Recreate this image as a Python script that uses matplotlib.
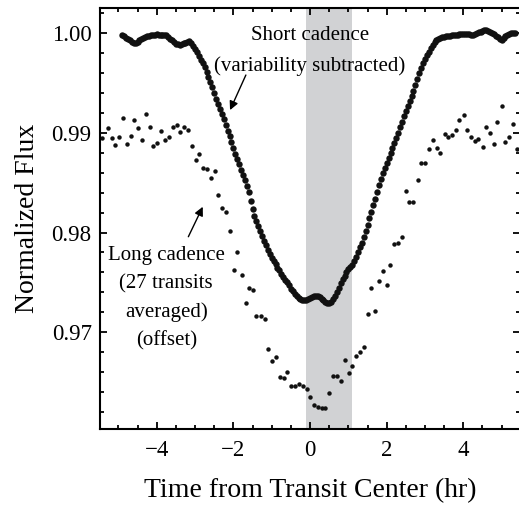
import numpy as np
import matplotlib
matplotlib.use("Agg")
import matplotlib.pyplot as plt
from matplotlib.ticker import MultipleLocator, FormatStrFormatter

plt.rcParams['font.family'] = ['Liberation Serif', 'DejaVu Serif']

# short cadence (variability subtracted), time in hr from transit center
sc_time = [
    -4.90, -4.85, -4.80, -4.75, -4.70, -4.65, -4.60, -4.55, -4.50, -4.45,
    -4.40, -4.35, -4.30, -4.25, -4.20, -4.15, -4.10, -4.05, -4.00, -3.95,
    -3.90, -3.85, -3.80, -3.75, -3.70, -3.65, -3.60, -3.55, -3.50, -3.45,
    -3.40, -3.35, -3.30, -3.25, -3.20, -3.15, -3.10, -3.05, -3.00, -2.95,
    -2.90, -2.85, -2.80, -2.75, -2.70, -2.65, -2.60, -2.55, -2.50, -2.45,
    -2.40, -2.35, -2.30, -2.25, -2.20, -2.15, -2.10, -2.05, -2.00, -1.95,
    -1.90, -1.85, -1.80, -1.75, -1.70, -1.65, -1.60, -1.55, -1.50, -1.45,
    -1.40, -1.35, -1.30, -1.25, -1.20, -1.15, -1.10, -1.05, -1.00, -0.95,
    -0.90, -0.85, -0.80, -0.75, -0.70, -0.65, -0.60, -0.55, -0.50, -0.45,
    -0.40, -0.35, -0.30, -0.25, -0.20, -0.15, -0.10, -0.05, 0.00, 0.05,
    0.10, 0.15, 0.20, 0.25, 0.30, 0.35, 0.40, 0.45, 0.50, 0.55,
    0.60, 0.65, 0.70, 0.75, 0.80, 0.85, 0.90, 0.95, 1.00, 1.05,
    1.10, 1.15, 1.20, 1.25, 1.30, 1.35, 1.40, 1.45, 1.50, 1.55,
    1.60, 1.65, 1.70, 1.75, 1.80, 1.85, 1.90, 1.95, 2.00, 2.05,
    2.10, 2.15, 2.20, 2.25, 2.30, 2.35, 2.40, 2.45, 2.50, 2.55,
    2.60, 2.65, 2.70, 2.75, 2.80, 2.85, 2.90, 2.95, 3.00, 3.05,
    3.10, 3.15, 3.20, 3.25, 3.30, 3.35, 3.40, 3.45, 3.50, 3.55,
    3.60, 3.65, 3.70, 3.75, 3.80, 3.85, 3.90, 3.95, 4.00, 4.05,
    4.10, 4.15, 4.20, 4.25, 4.30, 4.35, 4.40, 4.45, 4.50, 4.55,
    4.60, 4.65, 4.70, 4.75, 4.80, 4.85, 4.90, 4.95, 5.00, 5.05,
    5.10, 5.15, 5.20, 5.25, 5.30, 5.35]
sc_flux = [
    0.99988, 0.99973, 0.99958, 0.99948, 0.99933, 0.99918, 0.99908, 0.99903, 0.99918, 0.99933,
    0.99948, 0.99958, 0.99968, 0.99973, 0.99978, 0.99983, 0.99983, 0.99988, 0.99993, 0.99988,
    0.99983, 0.99983, 0.99983, 0.99983, 0.99968, 0.99948, 0.99933, 0.99913, 0.99898, 0.99893,
    0.99888, 0.99893, 0.99903, 0.99908, 0.99918, 0.99928, 0.99908, 0.99872, 0.99842, 0.99812,
    0.99772, 0.99732, 0.99702, 0.99662, 0.99611, 0.99561, 0.99511, 0.99461, 0.99401, 0.99340,
    0.99290, 0.99240, 0.99195, 0.99140, 0.99079, 0.99019, 0.98969, 0.98909, 0.98848, 0.98793,
    0.98738, 0.98688, 0.98633, 0.98577, 0.98527, 0.98467, 0.98407, 0.98316, 0.98236, 0.98166,
    0.98116, 0.98065, 0.98015, 0.97965, 0.97915, 0.97870, 0.97824, 0.97784, 0.97749, 0.97714,
    0.97684, 0.97649, 0.97619, 0.97588, 0.97558, 0.97523, 0.97503, 0.97473, 0.97438, 0.97408,
    0.97383, 0.97362, 0.97347, 0.97332, 0.97327, 0.97322, 0.97327, 0.97337, 0.97342, 0.97352,
    0.97362, 0.97367, 0.97362, 0.97352, 0.97337, 0.97322, 0.97307, 0.97297, 0.97292, 0.97307,
    0.97332, 0.97362, 0.97403, 0.97448, 0.97493, 0.97533, 0.97563, 0.97603, 0.97629, 0.97654,
    0.97679, 0.97714, 0.97759, 0.97804, 0.97854, 0.97900, 0.97955, 0.98015, 0.98080, 0.98146,
    0.98211, 0.98276, 0.98341, 0.98407, 0.98477, 0.98537, 0.98597, 0.98653, 0.98703, 0.98753,
    0.98803, 0.98853, 0.98904, 0.98954, 0.99004, 0.99059, 0.99109, 0.99170, 0.99220, 0.99270,
    0.99320, 0.99370, 0.99421, 0.99481, 0.99541, 0.99601, 0.99652, 0.99707, 0.99747, 0.99782,
    0.99817, 0.99852, 0.99888, 0.99913, 0.99933, 0.99948, 0.99958, 0.99963, 0.99968, 0.99973,
    0.99978, 0.99978, 0.99983, 0.99983, 0.99988, 0.99988, 0.99993, 0.99993, 0.99998, 0.99998,
    0.99998, 0.99993, 0.99988, 0.99988, 0.99998, 1.00008, 1.00018, 1.00018, 1.00023, 1.00033,
    1.00038, 1.00028, 1.00018, 1.00008, 0.99993, 0.99978, 0.99963, 0.99948, 0.99933, 0.99953,
    0.99978, 0.99988, 0.99998, 1.00003, 1.00006, 1.00003]

# long cadence (27 transits averaged, offset)
lc_time = [
    -5.434, -5.283, -5.173, -5.087, -4.983, -4.892, -4.780, -4.670, -4.592, -4.479,
    -4.391, -4.284, -4.174, -4.088, -3.984, -3.895, -3.783, -3.679, -3.582, -3.478,
    -3.392, -3.287, -3.175, -3.086, -2.982, -2.896, -2.784, -2.679, -2.591, -2.486,
    -2.408, -2.288, -2.184, -2.095, -1.983, -1.897, -1.787, -1.675, -1.597, -1.492,
    -1.404, -1.286, -1.182, -1.096, -0.984, -0.895, -0.790, -0.678, -0.592, -0.488,
    -0.391, -0.287, -0.183, -0.086, 0.008, 0.104, 0.209, 0.305, 0.399, 0.504,
    0.600, 0.704, 0.817, 0.905, 1.010, 1.096, 1.208, 1.312, 1.409, 1.500,
    1.591, 1.704, 1.808, 1.905, 2.004, 2.092, 2.199, 2.304, 2.400, 2.499,
    2.591, 2.700, 2.805, 2.904, 3.008, 3.097, 3.201, 3.313, 3.399, 3.514,
    3.600, 3.705, 3.809, 3.895, 4.010, 4.096, 4.193, 4.305, 4.391, 4.506,
    4.592, 4.696, 4.808, 4.886, 5.001, 5.087, 5.192, 5.304, 5.393]
lc_flux = [
    0.98946, 0.99051, 0.98946, 0.98876, 0.98959, 0.99155, 0.98887, 0.98972, 0.99129, 0.99049,
    0.98926, 0.99190, 0.99059, 0.98865, 0.98902, 0.99016, 0.98929, 0.98962, 0.99056, 0.99082,
    0.99012, 0.99062, 0.99032, 0.98865, 0.98725, 0.98785, 0.98648, 0.98638, 0.98550, 0.98620,
    0.98377, 0.98246, 0.98206, 0.98012, 0.97623, 0.97806, 0.97578, 0.97297, 0.97448, 0.97423,
    0.97160, 0.97159, 0.97129, 0.96833, 0.96707, 0.96753, 0.96552, 0.96536, 0.96599, 0.96462,
    0.96462, 0.96476, 0.96462, 0.96426, 0.96348, 0.96271, 0.96251, 0.96241, 0.96241, 0.96389,
    0.96562, 0.96562, 0.96512, 0.96720, 0.96592, 0.96657, 0.96763, 0.96803, 0.96853, 0.97177,
    0.97448, 0.97212, 0.97516, 0.97613, 0.97473, 0.97671, 0.97888, 0.97898, 0.97958, 0.98414,
    0.98303, 0.98303, 0.98527, 0.98698, 0.98695, 0.98838, 0.98929, 0.98851, 0.98801, 0.98986,
    0.98962, 0.98982, 0.99026, 0.99127, 0.99183, 0.99029, 0.98956, 0.98922, 0.98942, 0.98855,
    0.99056, 0.98996, 0.98892, 0.99106, 0.99273, 0.98909, 0.98959, 0.99092, 0.98841]

band = (-0.11, 1.09)

fig = plt.figure(figsize=(5.19, 5.08), dpi=100)
ax = fig.add_axes([0.1927, 0.1555, 0.8093, 0.8295])

ax.axvspan(band[0], band[1], color='#d1d2d4', lw=0, zorder=0)
ax.plot(lc_time, lc_flux, 'o', color='#111111', ms=3.2, mew=0, zorder=2)
ax.plot(sc_time, sc_flux, 'o', color='#111111', ms=4.6, mew=0, zorder=3)

ax.set_xlim(-5.48, 5.48)
ax.set_ylim(0.96027, 1.00259)

ax.xaxis.set_major_locator(MultipleLocator(2))
ax.xaxis.set_minor_locator(MultipleLocator(0.5))
ax.yaxis.set_major_locator(MultipleLocator(0.01))
ax.yaxis.set_minor_locator(MultipleLocator(0.002))
ax.yaxis.set_major_formatter(FormatStrFormatter('%.2f'))

ax.tick_params(which='both', direction='in', top=True, right=True, width=1.3, labelsize=16.5)
ax.tick_params(which='major', length=5)
ax.tick_params(which='minor', length=3)
ax.tick_params(axis='y', pad=6)
ax.tick_params(axis='x', pad=8)
for s in ax.spines.values():
    s.set_linewidth(1.5)

ax.set_xlabel('Time from Transit Center (hr)', fontsize=20, labelpad=12)
ax.set_ylabel('Normalized Flux', fontsize=20, labelpad=8)

ax.text(0.0, 0.99822, 'Short cadence\n(variability subtracted)', ha='center', va='center',
        fontsize=15, linespacing=1.75, zorder=4)
ax.text(-3.75, 0.97340, 'Long cadence\n(27 transits\naveraged)\n(offset)', ha='center', va='center',
        fontsize=15, linespacing=1.62, zorder=4)

arrow = dict(arrowstyle='-|>', lw=1.0, color='black', mutation_scale=13, shrinkA=0, shrinkB=0)
ax.annotate('', xy=(-2.087, 0.99230), xytext=(-1.674, 0.99582), arrowprops=arrow)
ax.annotate('', xy=(-2.799, 0.98259), xytext=(-3.175, 0.97958), arrowprops=arrow)

fig.savefig('out.png', dpi=100)
